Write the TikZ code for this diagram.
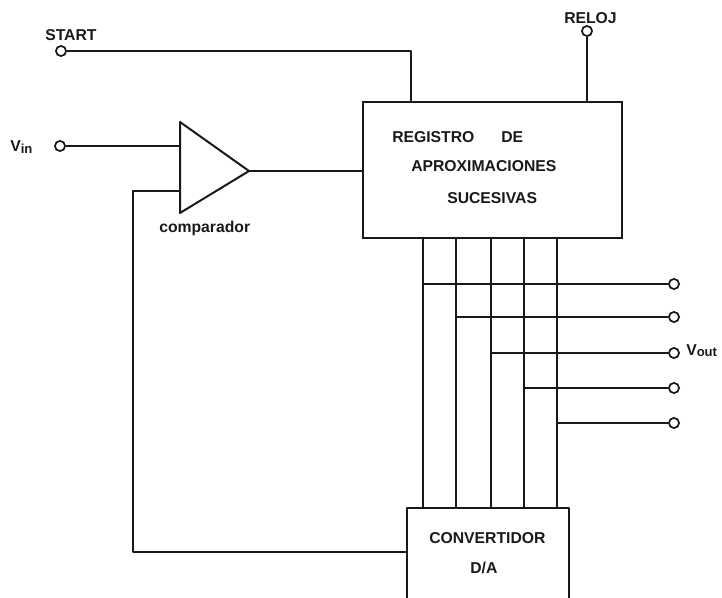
\documentclass[tikz,border=0pt]{standalone}
\usepackage{fontspec}
\setmainfont{Liberation Sans}
\newcommand{\subtxt}[2][-1.6pt]{\raisebox{#1}{\fontsize{9.8}{10}\selectfont #2}}
\tikzset{
  wire/.style={line width=1.5pt,black!90,line join=round},
  term/.style={circle,draw=black!90,line width=1.3pt,fill=white,inner sep=0pt,minimum size=7.6pt},
  lab/.style={font=\bfseries\fontsize{11.8}{13}\selectfont,inner sep=0pt,text=black!90,anchor=west},
  block/.style={draw=black!90,line width=1.5pt,inner sep=0pt,outer sep=0pt}
}
\begin{document}
\begin{tikzpicture}[x=0.75pt,y=-0.75pt]
\useasboundingbox (0,0) rectangle (722,598);
% register block
\node[block,minimum width=194.25pt,minimum height=102pt] (reg) at (492.5,170) {};
% D/A block, open at the lower page edge
\coordinate (dtl) at (407,508);
\coordinate (dtr) at (569,508);
\coordinate (dbl) at (407,598);
\coordinate (dbr) at (569,598);
\draw[wire] (dbl) -- (dtl) -- (dtr) -- (dbr);
% comparator
\coordinate (ctop) at (180,122);
\coordinate (ctip) at (249,171);
\coordinate (cbot) at (180,213);
\draw[wire] (ctop) -- (ctip) -- (cbot) -- cycle;
% terminals
\node[term] (st) at (61,51) {};
\node[term] (vi) at (60,146) {};
\node[term] (re) at (587,31) {};
\node[term] (o1) at (674,284) {};
\node[term] (o2) at (674,317) {};
\node[term] (o3) at (674,353) {};
\node[term] (o4) at (674,388) {};
\node[term] (o5) at (674,423) {};
% connectors
\coordinate (stin) at (411,102);
\coordinate (cinp) at (180,147);
\coordinate (cinn) at (180,191);
\coordinate (fbk) at (133,191);
\coordinate (dacin) at (407,552);
\draw[wire] (st.east) -- (st.east -| stin) -- (stin);
\draw[wire] (vi) -- (vi -| cinp);
\draw[wire] (re) -- (re |- reg.north);
\draw[wire] (ctip) -- (ctip -| reg.west);
\draw[wire] (cinn) -- (fbk) -- (fbk |- dacin) -- (dacin);
\foreach \x/\o in {423/o1,456/o2,491/o3,524/o4,557/o5}{
  \coordinate (top\o) at (\x,238);
  \coordinate (bot\o) at (\x,508);
  \draw[wire] (top\o) -- (bot\o);
  \draw[wire] (top\o |- \o) -- (\o);
}
% labels
\node[lab] (lstart) at (45,35) {START};
\node[lab] (lreloj) at (564,18) {RELOJ};
\node[lab] (lvin) at (10,147) {V\subtxt{in}};
\node[lab] (lcomp) at (159,228) {comparador};
\node[lab] (lreg) at (392,137) {REGISTRO};
\node[lab] (lde) at (501,137) {DE};
\node[lab] (lapr) at (411,166) {APROXIMACIONES};
\node[lab] (lsuc) at (447,198) {SUCESIVAS};
\node[lab] (lconv) at (429,538) {CONVERTIDOR};
\node[lab] (lda) at (470,568) {D/A};
\node[lab] (lvout) at (686,351) {V\subtxt[-0.6pt]{out}};
\end{tikzpicture}
\end{document}
